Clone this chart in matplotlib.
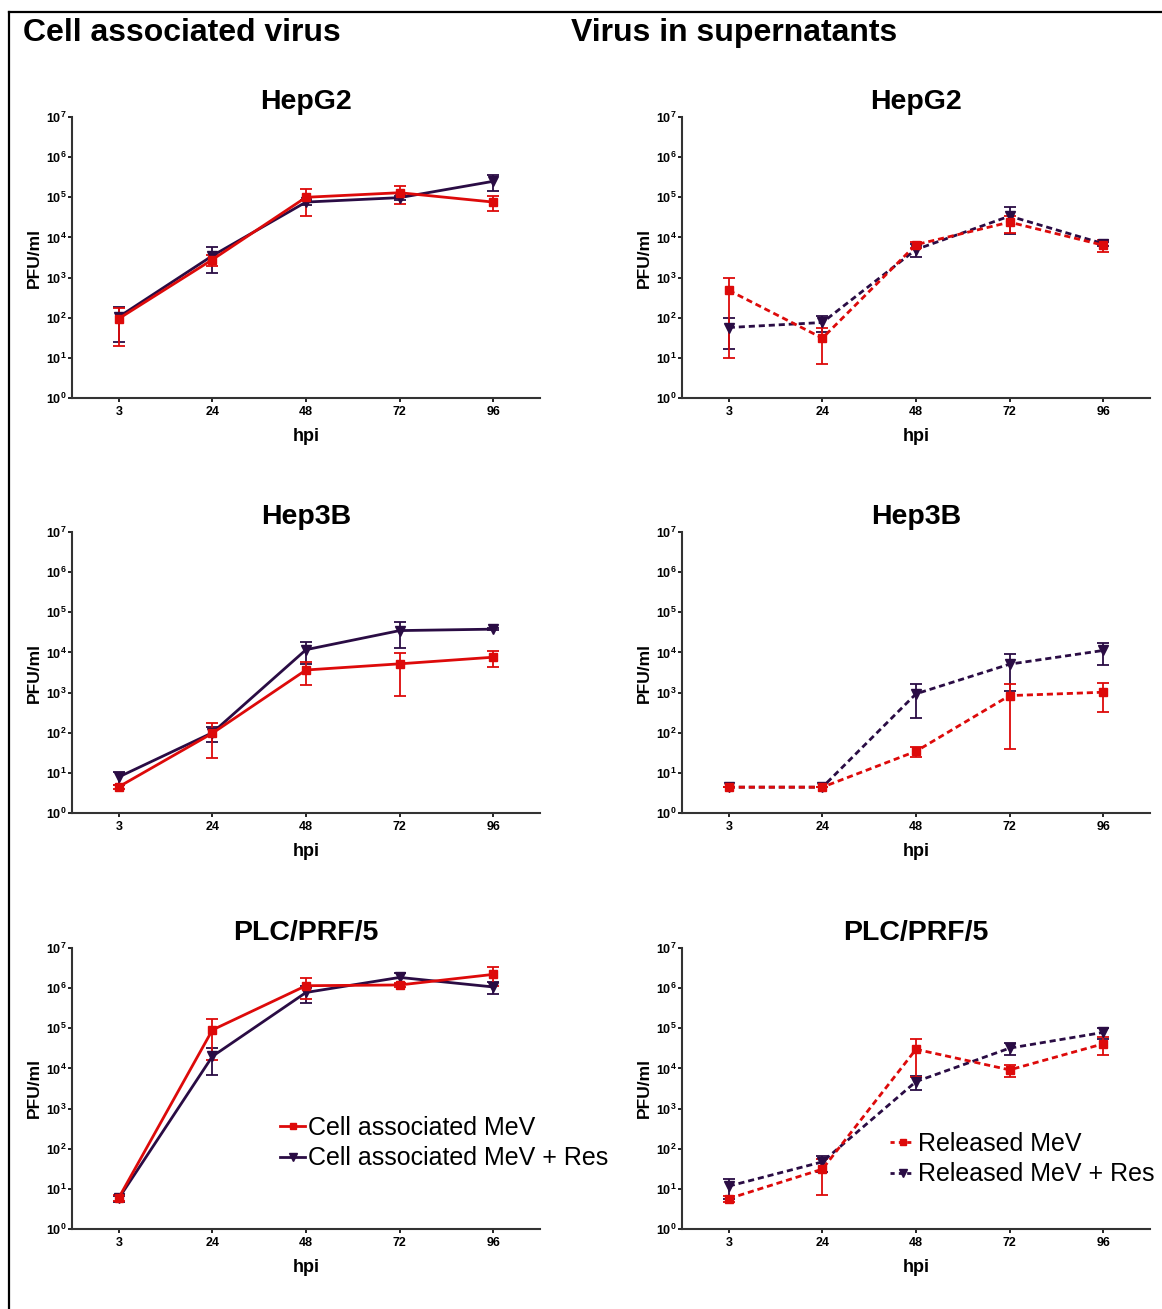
import matplotlib.pyplot as plt
from matplotlib.ticker import FixedLocator, FuncFormatter
from matplotlib.lines import Line2D
import numpy as np

plt.rcParams['font.family'] = ['Liberation Sans', 'DejaVu Sans']
plt.rcParams['mathtext.fontset'] = 'custom'
plt.rcParams['mathtext.bf'] = 'Liberation Sans:bold'
plt.rcParams['mathtext.rm'] = 'Liberation Sans'

# DATA
hpi = ['3', '24', '48', '72', '96']
cell_lines = ['HepG2', 'Hep3B', 'PLC/PRF/5']

# cell associated virus (mean, sd) PFU/ml
cell_mev = {
    'HepG2': [95, 2800, 1.0e5, 1.3e5, 7.6e4],
    'Hep3B': [4.5, 97, 3650, 5200, 7600],
    'PLC/PRF/5': [6, 9.1e4, 1.15e6, 1.2e6, 2.2e6],
}
cell_mev_sd = {
    'HepG2': [75, 900, 6.5e4, 6.0e4, 3.0e4],
    'Hep3B': [0.5, 74, 2100, 4400, 3200],
    'PLC/PRF/5': [1, 7.5e4, 6.0e5, 1.5e5, 1.1e6],
}
cell_res = {
    'HepG2': [105, 3500, 7.6e4, 9.8e4, 2.5e5],
    'Hep3B': [7.9, 100, 1.17e4, 3.5e4, 3.8e4],
    'PLC/PRF/5': [5.8, 2.0e4, 7.8e5, 1.85e6, 1.07e6],
}
cell_res_sd = {
    'HepG2': [80, 2200, 1.0e4, 1.2e4, 1.1e5],
    'Hep3B': [2.8, 40, 6500, 2.2e4, 2000],
    'PLC/PRF/5': [1, 1.3e4, 3.5e5, 6.0e5, 3.5e5],
}

# virus in supernatants
sup_mev = {
    'HepG2': [480, 31, 6600, 2.4e4, 6400],
    'Hep3B': [4.4, 4.4, 34.5, 840, 1020],
    'PLC/PRF/5': [5.7, 31, 3.0e4, 9200, 4.1e4],
}
sup_mev_sd = {
    'HepG2': [470, 24, 1300, 1.1e4, 2000],
    'Hep3B': [0, 0, 10, 800, 700],
    'PLC/PRF/5': [1, 24, 2.4e4, 3000, 2.0e4],
}
sup_res = {
    'HepG2': [57, 76, 5000, 3.4e4, 7000],
    'Hep3B': [4.4, 4.4, 930, 5100, 1.12e4],
    'PLC/PRF/5': [11.7, 47, 4700, 3.2e4, 7.9e4],
}
sup_res_sd = {
    'HepG2': [40, 33, 1700, 2.2e4, 800],
    'Hep3B': [0, 0, 700, 4000, 6300],
    'PLC/PRF/5': [6, 20, 1800, 1.1e4, 2.5e4],
}

RED = '#dd0a0a'
PURPLE = '#2a0c44'
W, H = 1162, 1309

fig = plt.figure(figsize=(W / 100, H / 100), dpi=100)

# frame lines (left + top)
fig.add_artist(Line2D([9 / W, 9 / W], [0, 1 - 12 / H], color='black', lw=1.6))
fig.add_artist(Line2D([9 / W, 1], [1 - 12 / H, 1 - 12 / H], color='black', lw=1.6))

fig.text(23 / W, 1 - 33 / H, 'Cell associated virus', fontsize=23, fontweight='bold',
         va='center', ha='left')
fig.text(571 / W, 1 - 33 / H, 'Virus in supernatants', fontsize=23, fontweight='bold',
         va='center', ha='left')

col_left = [72, 682]
row_top = [117, 532, 948]
ax_w, ax_h = 468, 281
x = np.arange(len(hpi))


def draw_series(ax, mean, sd, color, marker, ms, ls):
    mean = np.array(mean, dtype=float)
    sd = np.array(sd, dtype=float)
    lower = np.minimum(sd, mean - 1.0)  # keep log-scale bars positive
    ax.errorbar(x, mean, yerr=[lower, sd], color=color, marker=marker, ms=ms,
                lw=2, ls=ls, elinewidth=1.3, capsize=4, capthick=1.3)


for r, cl in enumerate(cell_lines):
    for c in range(2):
        ax = fig.add_axes([col_left[c] / W, 1 - (row_top[r] + ax_h) / H, ax_w / W, ax_h / H])
        ax.set_yscale('log')
        ax.set_ylim(1, 1e7)
        ax.set_xlim(-0.5, 4.5)
        if c == 0:
            draw_series(ax, cell_res[cl], cell_res_sd[cl], PURPLE, 'v', 7, '-')
            draw_series(ax, cell_mev[cl], cell_mev_sd[cl], RED, 's', 5.5, '-')
        else:
            draw_series(ax, sup_res[cl], sup_res_sd[cl], PURPLE, 'v', 7, (0, (2.2, 1.4)))
            draw_series(ax, sup_mev[cl], sup_mev_sd[cl], RED, 's', 5.5, (0, (2.2, 1.4)))

        ax.yaxis.set_major_locator(FixedLocator([10.0 ** k for k in range(8)]))
        ax.yaxis.set_minor_locator(FixedLocator([]))
        ax.yaxis.set_major_formatter(FuncFormatter(
            lambda v, p: r'$\mathbf{10^{%d}}$' % int(round(np.log10(v)))))
        ax.set_xticks(x)
        ax.set_xticklabels(hpi, fontweight='bold', fontsize=9)
        ax.tick_params(axis='y', labelsize=9, length=3, width=1.2, pad=1)
        ax.tick_params(axis='x', length=3, width=1.2, pad=3)
        for s in ['top', 'right']:
            ax.spines[s].set_visible(False)
        for s in ['left', 'bottom']:
            ax.spines[s].set_linewidth(1.5)
            ax.spines[s].set_color('#333333')
        ax.set_title(cl, fontsize=20.5, fontweight='bold', pad=6)
        ax.set_xlabel('hpi', fontsize=13, fontweight='bold', labelpad=7)
        ax.set_ylabel('PFU/ml', fontsize=12.5, fontweight='bold', labelpad=3)

        if r == 2:
            if c == 0:
                handles = [Line2D([], [], color=RED, marker='s', ms=5, lw=2),
                           Line2D([], [], color=PURPLE, marker='v', ms=6, lw=2)]
                labels = ['Cell associated MeV', 'Cell associated MeV + Res']
                anchor = (280 / W, 1 - 1116 / H)
            else:
                handles = [Line2D([], [], color=RED, marker='s', ms=5, lw=2, ls=(0, (1.5, 1.5))),
                           Line2D([], [], color=PURPLE, marker='v', ms=6, lw=2, ls=(0, (1.5, 1.5)))]
                labels = ['Released MeV', 'Released MeV + Res']
                anchor = (890 / W, 1 - 1132 / H)
            fig.legend(handles, labels, loc='upper left', bbox_to_anchor=anchor,
                       frameon=False, fontsize=18, handlelength=1.0, handletextpad=0.1,
                       labelspacing=0.25, borderpad=0, borderaxespad=0)

fig.savefig('out.png', dpi=100)
